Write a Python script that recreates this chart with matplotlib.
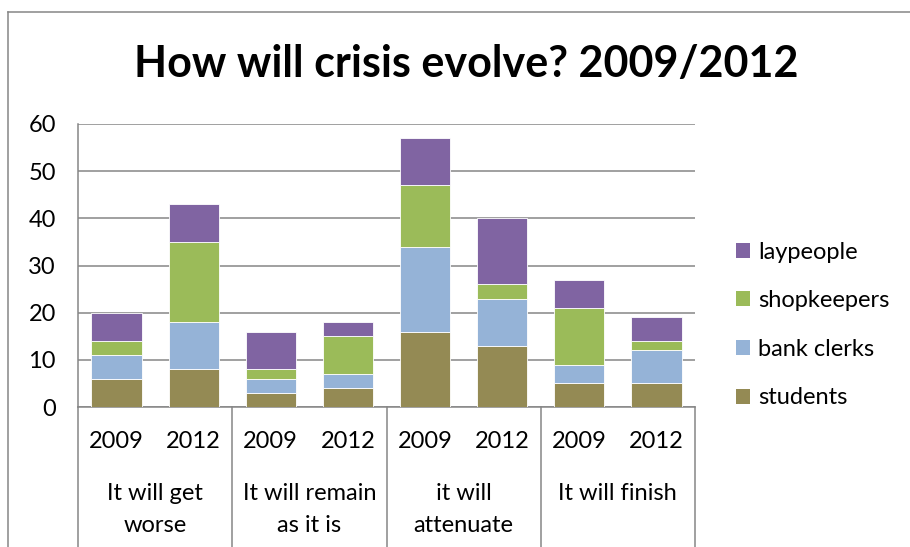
import matplotlib
matplotlib.use("Agg")
import matplotlib.pyplot as plt
from matplotlib.patches import Patch
from matplotlib.lines import Line2D
import numpy as np

plt.rcParams['font.family'] = ['Lato', 'DejaVu Sans']

groups = ["It will get\nworse", "It will remain\nas it is", "it will\nattenuate", "It will finish"]
years = ["2009", "2012"]
series_names = ["students", "bank clerks", "shopkeepers", "laypeople"]
colors = ["#948A54", "#95B3D7", "#9BBB59", "#8064A2"]

# one value per bar: (group, year) pairs in order
students    = [6, 8, 3, 4, 16, 13, 5, 5]
bank_clerks = [5, 10, 3, 3, 18, 10, 4, 7]
shopkeepers = [3, 17, 2, 8, 13, 3, 12, 2]
laypeople   = [6, 8, 8, 3, 10, 14, 6, 5]

series = [students, bank_clerks, shopkeepers, laypeople]

FS = 17
W, H = 910, 547
fig = plt.figure(figsize=(W / 100, H / 100), dpi=100)
ax = fig.add_axes([78 / W, (H - 407) / H, 617 / W, 283 / H])

x = np.arange(len(students)) + 0.5
bottom = np.zeros(len(students))
for vals, col, name in zip(series, colors, series_names):
    ax.bar(x, vals, width=0.65, bottom=bottom, color=col, edgecolor="white",
           linewidth=0.6, label=name, zorder=3)
    bottom += np.array(vals)

ax.set_xlim(0, 8)
ax.set_ylim(0, 60)
ax.set_yticks(range(0, 61, 10))
ax.yaxis.grid(True, color="#868686", linewidth=1.1, zorder=0)
ax.set_axisbelow(True)
ax.tick_params(axis="y", length=0, pad=16, labelsize=FS)
ax.tick_params(axis="x", length=0, labelbottom=False)
for s in ["top", "right"]:
    ax.spines[s].set_visible(False)
for s in ["left", "bottom"]:
    ax.spines[s].set_color("#868686")
    ax.spines[s].set_linewidth(1.1)

# multi-level category axis
trans = ax.get_xaxis_transform()
px = 1 / 283.0
for i, xc in enumerate(x):
    ax.text(xc, -(441 - 407) * px, years[i % 2], transform=trans,
            ha="center", va="center", fontsize=FS, clip_on=False)
for g, name in enumerate(groups):
    for k, ln in enumerate(name.split("\n")):
        ax.text(2 * g + 1, -(493 + 32 * k - 407) * px, ln, transform=trans,
                ha="center", va="center", fontsize=FS, clip_on=False)
for b in range(0, 9, 2):
    ax.add_line(Line2D([b, b], [0, -(H - 407) * px], transform=trans,
                       color="#868686", linewidth=1.1, clip_on=False))

fig.suptitle("How will crisis evolve? 2009/2012", x=466 / W, y=1 - 64 / H,
             va="center", fontsize=31, fontweight="bold")

handles = [Patch(facecolor=c, edgecolor="none") for c in colors][::-1]
labels = series_names[::-1]
fig.legend(handles, labels, loc="center left",
           bbox_to_anchor=(736 / W, 1 - 325 / H), frameon=False,
           fontsize=FS, handlelength=0.6, handleheight=0.6,
           handletextpad=0.35, labelspacing=1.17, borderpad=0,
           borderaxespad=0)

# chart frame
fig.add_artist(Line2D([8 / W, 8 / W], [0, 1 - 12 / H], transform=fig.transFigure,
                      color="#868686", linewidth=1.1))
fig.add_artist(Line2D([8 / W, 1], [1 - 12 / H, 1 - 12 / H], transform=fig.transFigure,
                      color="#868686", linewidth=1.1))

fig.savefig("out.png", dpi=100)
